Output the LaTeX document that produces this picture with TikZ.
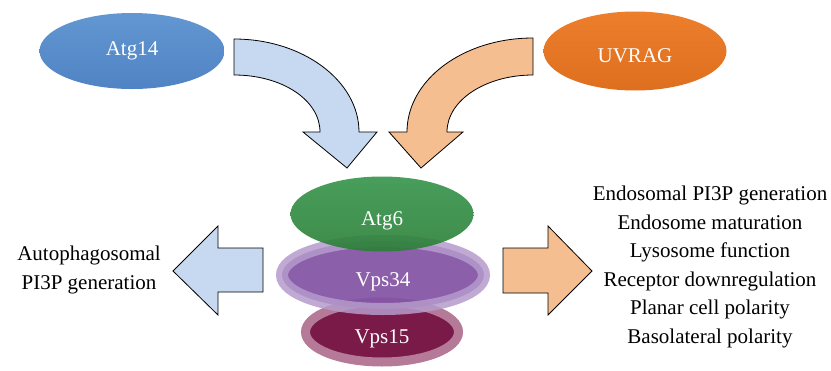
\documentclass[tikz,border=0pt]{standalone}
\usepackage{fontspec}
\setmainfont{Liberation Serif}
\usetikzlibrary{shapes.geometric}

\definecolor{atgbluelt}{HTML}{6297D2}
\definecolor{atgbluedk}{HTML}{5083C3}
\definecolor{uvraglt}{HTML}{EC7E2C}
\definecolor{uvragdk}{HTML}{DE6F1E}
\definecolor{atggreenlt}{HTML}{34934A}
\definecolor{atggreendk}{HTML}{2A7F36}
\definecolor{vpspurple}{HTML}{8251A3}
\definecolor{vpspurplelt}{HTML}{B59BCB}
\definecolor{vpsmaroon}{HTML}{7A1A48}
\definecolor{vpsmaroonlt}{HTML}{B47A98}
\definecolor{arrowblue}{HTML}{C6D9F0}
\definecolor{arroworange}{HTML}{F4BE91}

\tikzset{
  blob/.style={ellipse, inner sep=0pt, text=white, font=\fontsize{21}{25}\selectfont},
  lowtext/.style={text height=26pt, text depth=3pt},
  blockarrow/.style={draw=black, line width=0.8pt, line join=miter},
  sidetext/.style={align=center, inner sep=0pt, font=\fontsize{21}{28.6}\selectfont}
}

\begin{document}
\begin{tikzpicture}[x=1pt,y=-1pt]
\useasboundingbox (0,0) rectangle (831,370);

% binding partners
\node[blob, minimum width=185pt, minimum height=76pt, top color=atgbluelt, bottom color=atgbluedk] (atg14) at (132,51) {Atg14};
\node[blob, lowtext, minimum width=183pt, minimum height=79pt, top color=uvraglt, bottom color=uvragdk] (uvrag) at (635,51) {UVRAG};

% curved arrows
\path[blockarrow, fill=arrowblue] (234,39) .. controls (303,39) and (359,81) .. (359,132)
  -- (377,132) -- (347,168) -- (303,132) -- (320,132)
  .. controls (320,100) and (282,75) .. (234,75) -- cycle;
\path[blockarrow, fill=arroworange] (533,38) .. controls (463,38) and (407,80) .. (407,132)
  -- (389,132) -- (421,168) -- (463,132) -- (447,132)
  .. controls (447,100) and (486,75) .. (533,75) -- cycle;

% core complex
\node[blob, lowtext, minimum width=153pt, minimum height=60pt, fill=vpsmaroon, draw=vpsmaroonlt, line width=9pt] (vps15) at (382,332) {Vps15};
\node[blob, lowtext, minimum width=202pt, minimum height=68pt, fill=vpspurple, fill opacity=0.92, text opacity=1, draw=vpspurplelt, draw opacity=0.85, line width=12pt] (vps34) at (383,275) {Vps34};
\node[blob, lowtext, minimum width=183pt, minimum height=75pt, top color=atggreenlt, bottom color=atggreendk, fill opacity=0.9, text opacity=1] (atg6) at (382,214) {Atg6};

% outputs
\path[blockarrow, fill=arrowblue] (263,248) -- (218,248) -- (218,226) -- (173,271)
  -- (218,315) -- (218,292) -- (263,292) -- cycle;
\path[blockarrow, fill=arroworange] (503,248) -- (548,248) -- (548,226) -- (592,271)
  -- (548,315) -- (548,293) -- (503,293) -- cycle;

\node[sidetext] (autoph) at (89,270) {Autophagosomal\\PI3P generation};
\node[sidetext] (endo) at (710,267) {Endosomal PI3P generation\\Endosome maturation\\Lysosome function\\Receptor downregulation\\Planar cell polarity\\Basolateral polarity};
\end{tikzpicture}
\end{document}
